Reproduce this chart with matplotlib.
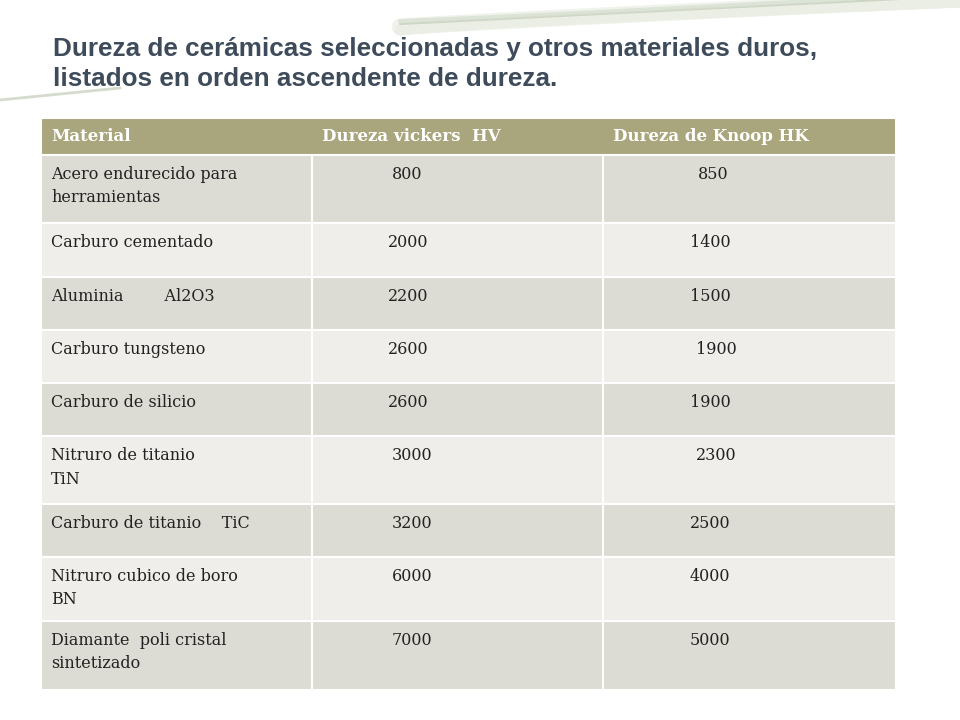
import matplotlib.pyplot as plt
import numpy as np
from matplotlib.patches import Rectangle

title = "Dureza de cerámicas seleccionadas y otros materiales duros,\nlistados en orden ascendente de dureza."
headers = ["Material", "Dureza vickers  HV", "Dureza de Knoop HK"]
materials = ["Acero endurecido para\nherramientas", "Carburo cementado", "Aluminia        Al2O3",
             "Carburo tungsteno", "Carburo de silicio", "Nitruro de titanio\nTiN",
             "Carburo de titanio    TiC", "Nitruro cubico de boro\nBN", "Diamante  poli cristal\nsintetizado"]
hv = ["800", "2000", "2200", "2600", "2600", "3000", "3200", "6000", "7000"]
hk = ["850", "1400", "1500", "1900", "1900", "2300", "2500", "4000", "5000"]

col_x = [41, 312, 603, 896]
row_y = [118, 155, 223, 277, 330, 383, 436, 504, 557, 621, 690]
hv_x = [392, 388, 388, 388, 388, 392, 392, 392, 392]
hk_x = [698, 690, 690, 696, 690, 696, 690, 690, 690]

fig = plt.figure(figsize=(9.6, 7.2), dpi=100)
ax = fig.add_axes([0, 0, 1, 1])
ax.set_xlim(0, 960)
ax.set_ylim(720, 0)
ax.axis("off")

# decorative swooshes top right
t = np.linspace(0, 1, 100)
for k, (c, w) in enumerate([("#dfe5d8", 8), ("#ecf0e6", 12), ("#c6cfbd", 1.5), ("#d8dfd2", 3)]):
    xs = 400 + 560 * t
    ys = 30 - 28 * t ** (0.8 + 0.1 * k) - 3 * k
    ax.plot(xs, ys, color=c, lw=w, alpha=0.8, solid_capstyle="round", zorder=0)
ax.plot(0 + 120 * t, 100 - 12 * t, color="#d5dccc", lw=2, zorder=0)

ax.text(53, 64, title, fontsize=18.8, fontweight="bold", color="#3e4b5b",
        family="Liberation Sans", va="center", linespacing=1.3)

serif = "DejaVu Serif"
# header
ax.add_patch(Rectangle((col_x[0], row_y[0]), col_x[-1] - col_x[0], row_y[1] - row_y[0],
                       facecolor="#a9a57c", edgecolor="white", lw=1.5))
for i, h in enumerate(headers):
    ax.text(col_x[i] + 10, (row_y[0] + row_y[1]) / 2, h, fontsize=12, fontweight="bold",
            color="white", family=serif, va="center")

for r in range(len(materials)):
    top, bot = row_y[r + 1], row_y[r + 2]
    fc = "#dddcd4" if r % 2 == 0 else "#efeeea"
    for c in range(3):
        ax.add_patch(Rectangle((col_x[c], top), col_x[c + 1] - col_x[c], bot - top,
                               facecolor=fc, edgecolor="white", lw=1.5))
    y = top + 11
    ax.text(51, y, materials[r], fontsize=11.5, family=serif, color="#222222", va="top", linespacing=1.5)
    ax.text(hv_x[r], y, hv[r], fontsize=11.5, family=serif, color="#222222", va="top")
    ax.text(hk_x[r], y, hk[r], fontsize=11.5, family=serif, color="#222222", va="top")

fig.savefig("out.png", dpi=100, facecolor="white")
